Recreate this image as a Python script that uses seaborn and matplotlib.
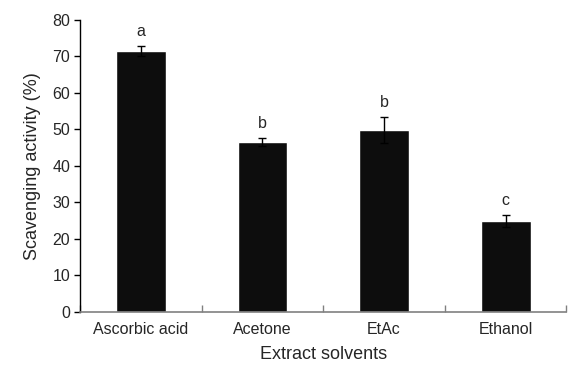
import numpy as np
import pandas as pd
import matplotlib
matplotlib.use("Agg")
import matplotlib.pyplot as plt
import seaborn as sns

solvents = ["Ascorbic acid", "Acetone", "EtAc", "Ethanol"]
activity = [71.5, 46.6, 49.9, 25.0]
errors = [1.4, 1.2, 3.6, 1.6]
letters = ["a", "b", "b", "c"]

sns.set_style("white")
plt.rcParams['font.family'] = ['Liberation Sans', 'DejaVu Sans']
plt.rcParams['xtick.direction'] = 'in'

df = pd.DataFrame({"solvent": solvents, "activity": activity})

fig = plt.figure(figsize=(5.69, 3.72), dpi=100)
ax = fig.add_axes([0.1406, 0.1613, 0.855, 0.785])

sns.barplot(data=df, x="solvent", y="activity", color="#0d0d0d",
            width=0.41, saturation=1, errorbar=None, ax=ax)
ax.errorbar(np.arange(len(solvents)), activity, yerr=errors, fmt="none",
            ecolor="black", elinewidth=1, capsize=3, capthick=1)

for i, (v, e, t) in enumerate(zip(activity, errors, letters)):
    ax.text(i, v + e + 1.8, t, ha="center", va="bottom", fontsize=11.5)

ax.set_xlim(-0.5, 3.5)
ax.set_ylim(0, 80)
ax.set_yticks(range(0, 81, 10))
ax.set_xlabel("Extract solvents", fontsize=13, labelpad=7)
ax.set_ylabel("Scavenging activity (%)", fontsize=13, labelpad=8)

ax.tick_params(axis="y", which="major", direction="out", length=4, width=1,
               labelsize=11.5, left=True, color="black", pad=3)
ax.set_xticks(np.arange(-0.5, 4, 1), minor=True)
ax.tick_params(axis="x", which="major", length=0, labelsize=11.5, pad=7)
ax.tick_params(axis="x", which="minor", direction="in", length=5, width=1,
               bottom=True, color="#808080")

sns.despine(ax=ax)
ax.spines["left"].set_color("black")
ax.spines["bottom"].set_color("#808080")
ax.spines["left"].set_linewidth(1)
ax.spines["bottom"].set_linewidth(1.2)

fig.savefig("out.png", dpi=100)
